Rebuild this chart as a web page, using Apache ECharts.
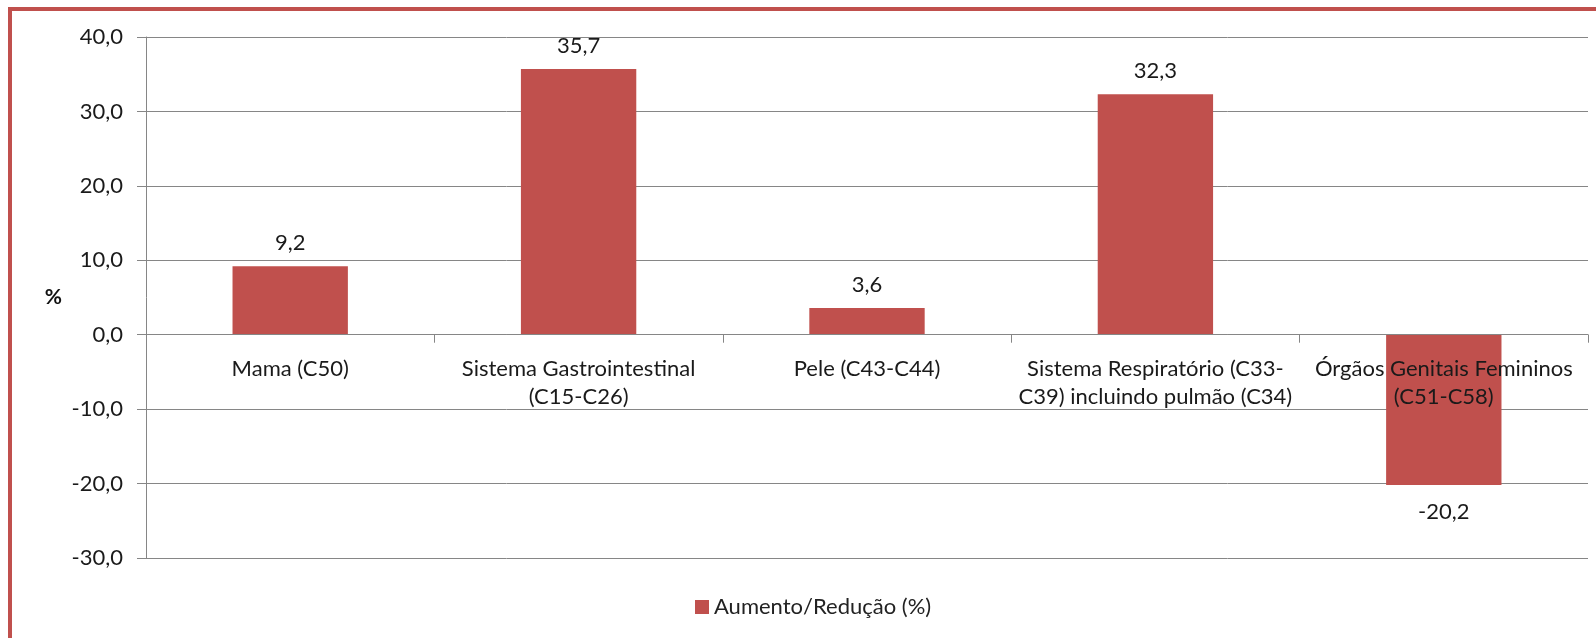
<!DOCTYPE html>
<html>
<head>
<meta charset="utf-8">
<script src="https://cdn.jsdelivr.net/npm/echarts@6/dist/echarts.min.js"></script>
<style>
  html, body { margin: 0; padding: 0; background: #fff; }
  #wrap { position: relative; width: 1596px; height: 638px; overflow: hidden; }
  #frame { position: absolute; left: 8px; top: 7px; width: 1700px; height: 700px;
           border-left: 4px solid #c0504d; border-top: 4px solid #c0504d; box-sizing: border-box; }
  #main { position: absolute; left: 0; top: 0; width: 1596px; height: 638px; }
</style>
</head>
<body>
<div id="wrap">
  <div id="frame"></div>
  <div id="main"></div>
</div>
<script>
var categorias = [
  'Mama (C50)',
  'Sistema Gastrointestinal\n(C15-C26)',
  'Pele (C43-C44)',
  'Sistema Respiratório (C33-\nC39) incluindo pulmão (C34)',
  'Órgãos Genitais Femininos\n(C51-C58)'
];
var valores = [9.2, 35.7, 3.6, 32.3, -20.2];
var serieNome = 'Aumento/Redução (%)';

var yMin = -30, yMax = 40;
var gridTop = 37, gridBottom = 80;
var plotH = 638 - gridTop - gridBottom;
// distance from bottom of plot up to the zero line
var zeroOffset = plotH * (0 - yMin) / (yMax - yMin);

var chart = echarts.init(document.getElementById('main'));
var fonte = 'Lato, "Noto Sans", sans-serif';
var fmt = function (v) { return Number(v).toFixed(1).replace('.', ','); };

var dados = valores.map(function (v) {
  return { value: v, label: { position: v < 0 ? 'bottom' : 'top', distance: v < 0 ? 16 : 12 } };
});

var option = {
  animation: false,
  textStyle: { fontFamily: fonte },
  grid: { left: 146, right: 8, top: gridTop, bottom: gridBottom, containLabel: false },
  legend: {
    data: [serieNome],
    left: 690, top: 591,
    icon: 'rect', itemWidth: 14, itemHeight: 14, itemGap: 10,
    textStyle: { fontSize: 22, color: '#222', fontFamily: fonte }
  },
  xAxis: {
    type: 'category',
    data: categorias,
    z: 5,
    offset: -zeroOffset,
    axisLine: { onZero: false, lineStyle: { color: '#868686', width: 1 } },
    axisTick: { show: true, length: 8, lineStyle: { color: '#868686' } },
    axisLabel: { color: '#1a1a1a', fontSize: 22, fontFamily: fonte, margin: 20, lineHeight: 28, interval: 0 }
  },
  yAxis: {
    type: 'value',
    min: yMin, max: yMax, interval: 10,
    name: '%',
    nameLocation: 'middle',
    nameRotate: 0,
    nameGap: 84,
    nameTextStyle: { fontSize: 21, fontWeight: 'bold', color: '#111', fontFamily: fonte },
    axisLine: { show: true, lineStyle: { color: '#868686' } },
    axisTick: { show: true, length: 9, lineStyle: { color: '#868686' } },
    axisLabel: { color: '#1a1a1a', fontSize: 22, fontFamily: fonte, margin: 23, formatter: fmt },
    splitLine: { lineStyle: { color: '#868686', width: 1 } }
  },
  series: [{
    name: serieNome,
    type: 'bar',
    barWidth: '40%',
    data: dados,
    itemStyle: { color: '#c0504d' },
    label: {
      show: true,
      color: '#1a1a1a',
      fontSize: 22,
      fontFamily: fonte,
      formatter: function (p) { return fmt(p.value); }
    }
  }]
};

chart.setOption(option);
</script>
</body>
</html>
